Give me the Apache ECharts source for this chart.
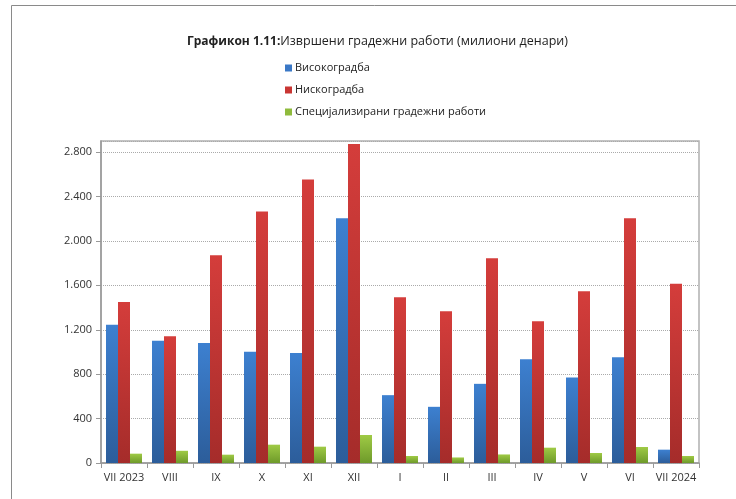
<!DOCTYPE html>
<html>
<head>
<meta charset="utf-8">
<script src="https://cdn.jsdelivr.net/npm/echarts@6/dist/echarts.min.js"></script>
<style>html,body{margin:0;padding:0;background:#fff}#c{width:736px;height:499px}</style>
</head>
<body>
<div id="c"></div>
<script>
const categories = ['VII 2023','VIII','IX','X','XI','XII','I','II','III','IV','V','VI','VII 2024'];
const seriesNames = ['Високоградба','Нискоградба','Специјализирани градежни работи'];
const visokogradba = [1246,1102,1081,1003,991,2205,611,506,713,935,770,953,120];
const niskogradba = [1450,1142,1872,2265,2553,2873,1492,1366,1843,1276,1546,2205,1615];
const specijalizirani = [84,110,75,165,147,252,63,50,77,138,90,144,63];
const yTicks = [0,400,800,1200,1600,2000,2400,2800];

function grad(top, bottom){
  return new echarts.graphic.LinearGradient(0,0,0,1,[{offset:0,color:top},{offset:1,color:bottom}]);
}
const colors = [grad('#3d80d0','#2c5d9a'), grad('#d43d3b','#a52c2a'), grad('#9fca45','#6e9a2a')];
const legendColors = ['#3a78c6','#c93633','#8fbb3c'];

const chart = echarts.init(document.getElementById('c'), null, {renderer:'canvas'});
const font = 'Open Sans, DejaVu Sans, sans-serif';
const data = [visokogradba, niskogradba, specijalizirani];
chart.setOption({
  animation:false,
  backgroundColor:'#fff',
  title:{
    text:'{b|Графикон 1.11:}{n|Извршени градежни работи (милиони денари)}',
    left:182, top:30,
    textStyle:{fontWeight:'normal',rich:{
      b:{fontWeight:'bold',fontSize:12,color:'#222',fontFamily:font},
      n:{fontWeight:'normal',fontSize:12.5,color:'#222',fontFamily:font}
    }}
  },
  legend:{
    orient:'vertical', left:280, top:56, itemGap:8,
    itemWidth:7, itemHeight:7, icon:'rect',
    textStyle:{fontSize:11,color:'#222',fontFamily:font,padding:[0,0,0,-2],height:14,lineHeight:14},
    data:seriesNames.map((n,i)=>({name:n,itemStyle:{color:legendColors[i]}}))
  },
  grid:{left:101,right:37,top:141,bottom:36,show:true,borderColor:'#b0b0b0',borderWidth:1.5,backgroundColor:'transparent'},
  xAxis:{
    type:'category', data:categories,
    axisLine:{lineStyle:{color:'#999',width:1.5}},
    axisTick:{show:true,length:5,lineStyle:{color:'#999'}},
    axisLabel:{fontSize:11,color:'#333',fontFamily:font,margin:9,interval:0}
  },
  yAxis:{
    type:'value', min:0, max:2900, interval:400,
    axisLine:{show:true,lineStyle:{color:'#999',width:1.5}},
    axisTick:{show:true,length:5,lineStyle:{color:'#999'}},
    axisLabel:{fontSize:11,color:'#333',fontFamily:font,margin:9,showMaxLabel:false,
      formatter:v=> yTicks.includes(v) ? String(v).replace(/\B(?=(\d{3})+(?!\d))/g,'.') : ''},
    splitLine:{show:true,lineStyle:{color:'#aaa',type:[1,1],width:1}}
  },
  graphic:[{type:'rect',shape:{x:11.5,y:5.5,width:800,height:600},style:{fill:null,stroke:'#8a8a8a',lineWidth:1},silent:true,z:-1}],
  series:data.map((d,i)=>({
    name:seriesNames[i], type:'bar', data:d, barWidth:12, barGap:'0%',
    itemStyle:{color:colors[i]}
  }))
});
</script>
</body>
</html>
